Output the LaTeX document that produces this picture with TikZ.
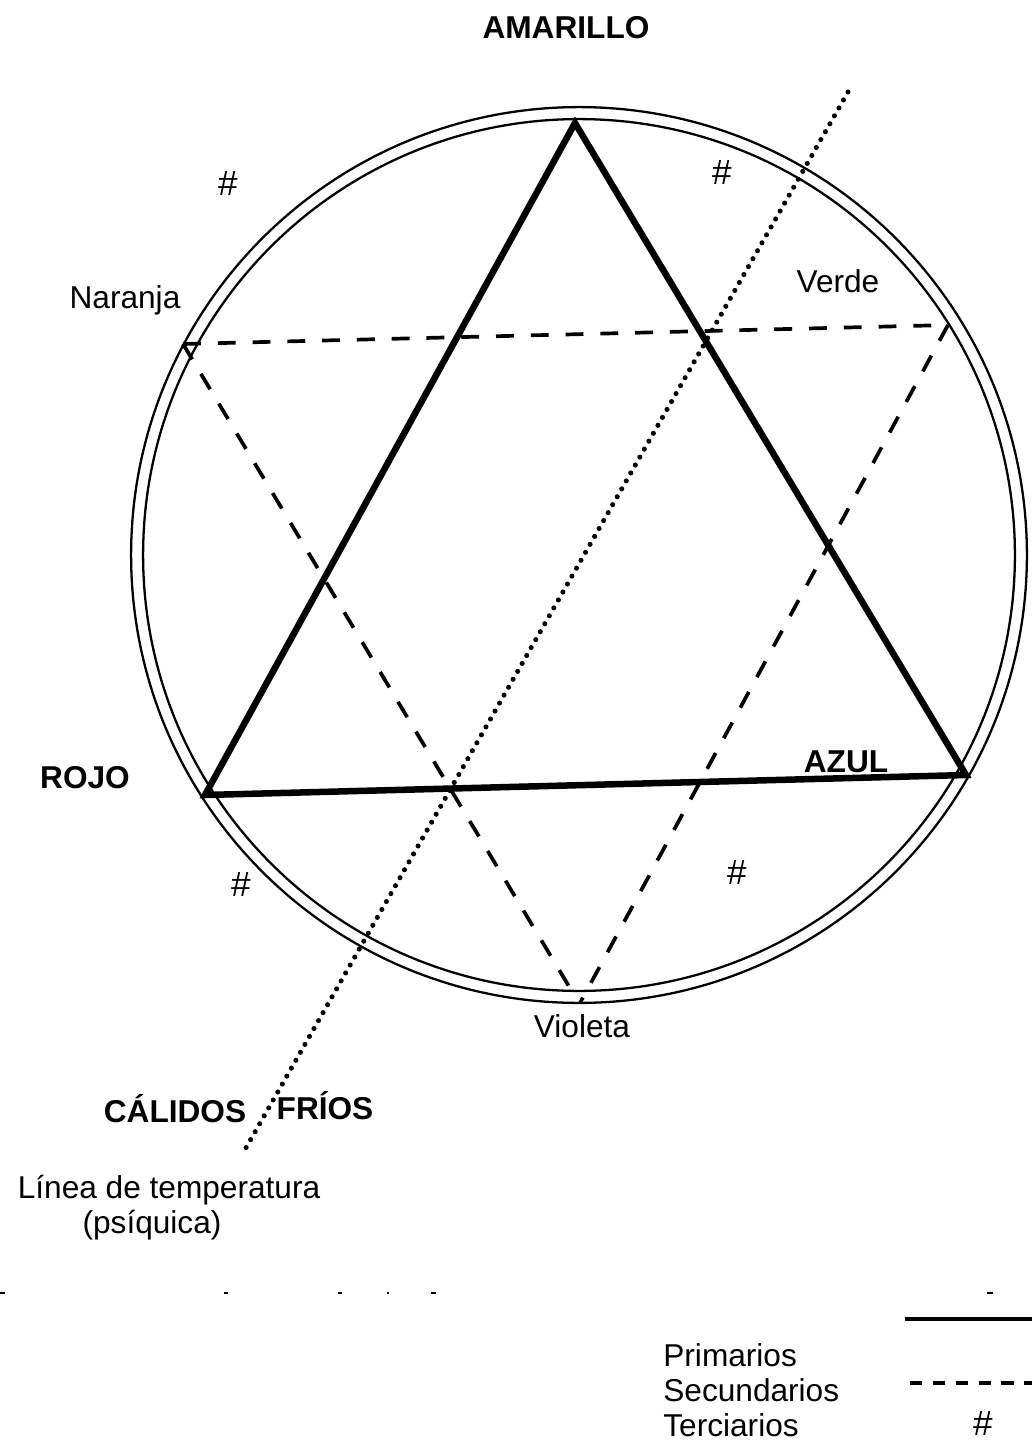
\documentclass[tikz,border=0pt]{standalone}
\usepackage{fontspec}
\setmainfont{Liberation Sans}
\begin{document}
\begin{tikzpicture}[x=0.02cm,y=-0.02cm,
  lbl/.style={inner sep=0pt, font=\fontsize{18}{20}\selectfont},
  hash/.style={inner sep=0pt, font=\fontsize{20}{22}\selectfont},
  blbl/.style={inner sep=0pt, font=\fontsize{18}{20}\selectfont\bfseries},
  prim/.style={line width=3.7pt, line join=miter},
  sec/.style={line width=2.1pt, dash pattern=on 10.2pt off 9.6pt},
  temp/.style={line width=2.9pt, line cap=round, dash pattern=on 0pt off 5.2pt},
  ring/.style={line width=1.3pt},
  tick/.style={line width=1.5pt}]
\useasboundingbox (0,0) rectangle (1032,1443);
% circle
\coordinate (C) at (579,555);
\draw[ring] (C) circle [radius=8.96cm];
\draw[ring] (C) circle [radius=8.72cm];
% primary triangle
\coordinate (A) at (575,123);
\coordinate (R) at (205,795);
\coordinate (Z) at (966,775);
\draw[prim] (A) -- (Z) -- (R) -- cycle;
% secondary triangle
\coordinate (N) at (183,344);
\coordinate (V) at (948,325);
\coordinate (Vi1) at (570,988);
\coordinate (Vi2) at (580,1003);
\draw[sec] (N) -- (V);
\draw[sec] (N) -- (Vi1);
\draw[sec] (V) -- (Vi2);
% temperature line
\coordinate (T1) at (848,92);
\coordinate (T2) at (243,1153);
\draw[temp] (T1) -- (T2);
% labels
\node[blbl] (amarillo) at (566,28) {AMARILLO};
\node[blbl] (rojo) at (85,778) {ROJO};
\node[blbl] (azul) at (846,762) {AZUL};
\node[lbl] (naranja) at (125,300) {Naranja};
\node[lbl] (verde) at (838,281) {Verde};
\node[lbl] (violeta) at (582,1026) {Violeta};
\node[hash] (h1) at (228,183) {\#};
\node[hash] (h2) at (722,172) {\#};
\node[hash] (h3) at (241,884) {\#};
\node[hash] (h4) at (737,872) {\#};
\node[blbl] (calidos) at (175,1109) {CÁLIDOS};
\node[blbl] (frios) at (325,1106) {FRÍOS};
\node[lbl] (linea) at (169,1190) {Línea de temperatura};
\node[lbl] (psiq) at (152,1225) {(psíquica)};
% scan tick marks
\foreach \xa/\xb in {0/5, 224/228, 338/342, 387/389, 431/436, 987/993}
  \draw[tick] (\xa,1293) -- (\xb,1293);
% legend
\node[lbl, anchor=west] (prim) at (663,1355) {Primarios};
\node[lbl, anchor=west] (secu) at (663,1390) {Secundarios};
\node[lbl, anchor=west] (terc) at (663,1425) {Terciarios};
\coordinate (L1a) at (905,1319);
\coordinate (L1b) at (1032,1319);
\draw[line width=2.8pt] (L1a) -- (L1b);
\coordinate (L2a) at (910,1383);
\coordinate (L2b) at (1032,1383);
\draw[line width=2pt, dash pattern=on 7pt off 6pt] (L2a) -- (L2b);
\node[hash] (hleg) at (983,1423) {\#};
\end{tikzpicture}
\end{document}
